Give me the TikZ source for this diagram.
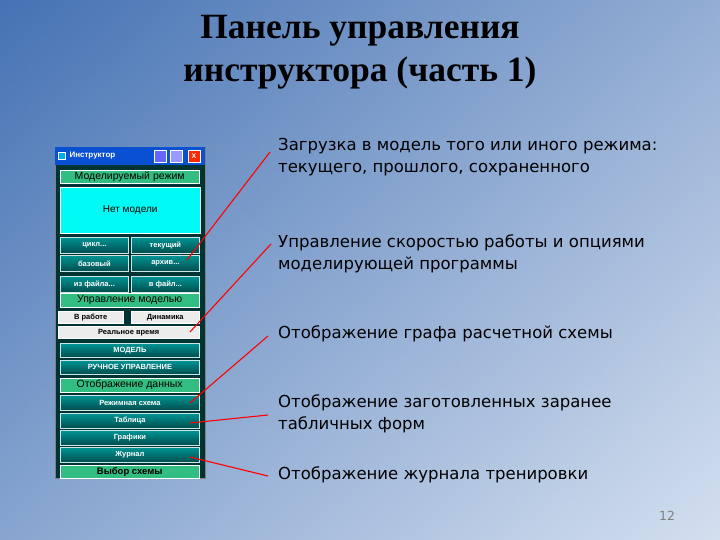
\documentclass[tikz,border=0pt]{standalone}
\usepackage{fontspec}
\setmainfont{Liberation Serif}
\newfontfamily\vf{DejaVu Sans}
\newfontfamily\af{Liberation Sans}
\begin{document}
\begin{tikzpicture}[x=1pt,y=-1pt,
  btn/.style={draw=white!80!teal,line width=0.8pt,top color=teal!55!cyan!80!black,bottom color=teal!60!black,text=white,font=\af\bfseries\fontsize{7.5}{8}\selectfont,inner sep=0pt,anchor=north west},
  hdr/.style={draw=white,fill={rgb,255:red,50;green,190;blue,130},text=black,font=\af\fontsize{10.5}{11}\selectfont,inner sep=0pt,anchor=north west},
  gry/.style={draw=white,fill=gray!15,text=black,font=\af\bfseries\fontsize{7.5}{8}\selectfont,inner sep=0pt,anchor=north west},
  body/.style={font=\vf\fontsize{16.5}{22}\selectfont,align=left,anchor=north west,inner sep=0pt},
  pointer/.style={draw=red,line width=1.1pt}]
\useasboundingbox (0,0) rectangle (720,540);
\shade[left color={rgb,255:red,70;green,115;blue,180},right color={rgb,255:red,225;green,233;blue,245}] (0,0) rectangle (720,540);
\shade[top color={rgb,255:red,70;green,115;blue,180},bottom color={rgb,255:red,200;green,215;blue,235},opacity=0.5] (0,0) rectangle (720,540);
\node[font=\bfseries\fontsize{35.5}{43}\selectfont,align=center] (title) at (360,52) {Панель управления\\инструктора (часть 1)};
% panel
\node[draw=gray,fill=teal!40!black,minimum width=150,minimum height=331,anchor=north west,inner sep=0] (panel) at (55,147) {};
\node[fill={rgb,255:red,10;green,80;blue,210},minimum width=150,minimum height=18,anchor=north west,inner sep=0] (bar) at (55,147) {};
\node[fill=cyan,draw=white,minimum size=7,inner sep=0] (ic) at (62,156) {};
\node[text=white,font=\af\bfseries\fontsize{8}{9}\selectfont,anchor=west] (bart) at (66,156) {Инструктор};
\node[fill=blue!60,draw=white,minimum size=12,inner sep=0] (b1) at (160,156) {};
\node[fill=blue!40,draw=white,minimum size=12,inner sep=0] (b2) at (176,156) {};
\node[fill=red!70!orange,draw=white,minimum size=12,inner sep=0,text=white,font=\af\bfseries\scriptsize] (b3) at (194,156) {X};
\node[hdr,minimum width=139,minimum height=13] (h1) at (60,170) {Моделируемый режим};
\node[draw=white,fill={rgb,255:red,0;green,250;blue,245},minimum width=140,minimum height=46,anchor=north west,inner sep=0,font=\af\fontsize{10}{11}\selectfont] (cy) at (60,187) {Нет модели};
\node[btn,minimum width=68,minimum height=16] (c1) at (60,237) {цикл...};
\node[btn,minimum width=68,minimum height=16] (c2) at (131,237) {текущий};
\node[btn,minimum width=68,minimum height=16] (c3) at (60,255) {базовый};
\node[btn,minimum width=68,minimum height=16] (c4) at (131,255) {архив...};
\node[btn,minimum width=68,minimum height=16] (c5) at (60,276) {из файла...};
\node[btn,minimum width=68,minimum height=16] (c6) at (131,276) {в файл...};
\node[hdr,minimum width=139,minimum height=14] (h2) at (60,293) {Управление моделью};
\node[gry,minimum width=65,minimum height=12] (g1) at (58,311) {В работе};
\node[gry,minimum width=68,minimum height=12] (g2) at (131,311) {Динамика};
\node[gry,minimum width=141,minimum height=12] (g3) at (58,326) {Реальное время};
\node[btn,minimum width=139,minimum height=14] (m1) at (60,343) {МОДЕЛЬ};
\node[btn,minimum width=139,minimum height=14] (m2) at (60,360) {РУЧНОЕ УПРАВЛЕНИЕ};
\node[hdr,minimum width=139,minimum height=14] (h3) at (60,378) {Отображение данных};
\node[btn,minimum width=139,minimum height=15] (d1) at (60,395) {Режимная схема};
\node[btn,minimum width=139,minimum height=15] (d2) at (60,413) {Таблица};
\node[btn,minimum width=139,minimum height=15] (d3) at (60,430) {Графики};
\node[btn,minimum width=139,minimum height=15] (d4) at (60,447) {Журнал};
\node[hdr,minimum width=139,minimum height=13,font=\af\bfseries\fontsize{9.5}{10}\selectfont] (h4) at (60,465) {Выбор схемы};
% texts
\node[body] (t1) at (278,138) {Загрузка в модель того или иного режима:\\текущего, прошлого, сохраненного};
\node[body] (t2) at (278,234) {Управление скоростью работы и опциями\\моделирующей программы};
\node[body] (t3) at (278,325) {Отображение графа расчетной схемы};
\node[body] (t4) at (278,394) {Отображение заготовленных заранее\\табличных форм};
\node[body] (t5) at (278,466) {Отображение журнала тренировки};
\node[font=\vf\fontsize{12.5}{14}\selectfont,text=gray] (pg) at (667,516) {12};
% pointers
\coordinate (e1) at (270,152); \coordinate (f1) at (187,260);
\coordinate (e2) at (271,244); \coordinate (f2) at (190,332);
\coordinate (e3) at (268,336); \coordinate (f3) at (190,403);
\coordinate (e4) at (268,415); \coordinate (f4) at (190,423);
\coordinate (e5) at (268,476); \coordinate (f5) at (190,457);
\foreach \i in {1,...,5} \draw[pointer] (e\i) -- (f\i);
\end{tikzpicture}
\end{document}
